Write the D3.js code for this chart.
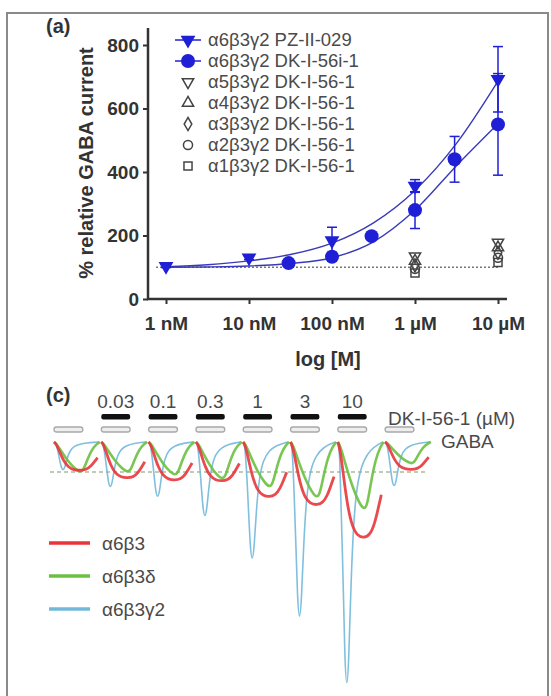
<!DOCTYPE html>
<html>
<head>
<meta charset="utf-8">
<script src="https://cdn.jsdelivr.net/npm/d3@7"></script>
<style>
  body { margin: 0; background: #fff; }
  svg { font-family: "Liberation Sans", Arial, sans-serif; }
  .tickLab { font-weight: bold; font-size: 19px; fill: #333; }
  .axisLabel { font-weight: bold; font-size: 20px; fill: #333; }
  .legendText { font-size: 18.5px; fill: #4a4a4a; }
  .traceText { font-size: 19px; fill: #4a4a4a; }
</style>
</head>
<body>
<div id="chart"></div>
<script>
// ---------- panel (a) data ----------
const xTickValues = [1e-9, 1e-8, 1e-7, 1e-6, 1e-5];
const xTickLabels = ["1 nM", "10 nM", "100 nM", "1 \u00b5M", "10 \u00b5M"];
const yTickValues = [0, 200, 400, 600, 800];

// a6b3g2 PZ-II-029 (filled down triangles)
const pzConc = [1e-9, 1e-8, 1e-7, 1e-6, 1e-5];
const pzMean = [103, 130, 184, 356, 692];
const pzErr  = [4, 6, 42, 20, 103];
// a6b3g2 DK-I-56-1 (filled circles)
const dkConc = [3e-8, 1e-7, 3e-7, 1e-6, 3e-6, 1e-5];
const dkMean = [113, 133, 198, 280, 440, 550];
const dkErr  = [4, 14, 6, 58, 72, 160];

// fitted curves (log10 conc, %)
const fitLogConc = [-9, -8.5, -8, -7.5, -7, -6.5, -6, -5.5, -5];
const pzFit = [102, 108, 120, 140, 176, 240, 342, 490, 686];
const dkFit = [100, 101, 104, 112, 130, 180, 280, 420, 552];

// other subtypes with DK-I-56-1 (open markers) at 1 uM and 10 uM
const otherConc = [1e-6, 1e-5];
const a5Vals = [135, 178];
const a4Vals = [120, 162];
const a3Vals = [106, 146];
const a2Vals = [95, 130];
const a1Vals = [82, 115];

const legendLabels = [
  "\u03b16\u03b23\u03b32 PZ-II-029",
  "\u03b16\u03b23\u03b32 DK-I-56i-1",
  "\u03b15\u03b23\u03b32 DK-I-56-1",
  "\u03b14\u03b23\u03b32 DK-I-56-1",
  "\u03b13\u03b23\u03b32 DK-I-56-1",
  "\u03b12\u03b23\u03b32 DK-I-56-1",
  "\u03b11\u03b23\u03b32 DK-I-56-1"
];

// ---------- panel (c) data ----------
const sweepNames = ["GABA", "0.03", "0.1", "0.3", "1", "3", "10", "GABA"];
const drugLabels = ["0.03", "0.1", "0.3", "1", "3", "10"];
// peak amplitude of each sweep, % of GABA alone
const ampA6B3   = [95, 120, 127, 130, 183, 210, 320, 92];
const ampA6B3D  = [100, 100, 110, 123, 150, 185, 225, 72];
const ampA6B3G2 = [95, 153, 187, 253, 400, 600, 830, 150];
// current time course inside one sweep (fraction of sweep, fraction of peak)
const shapeA6B3   = [[0,0],[0.05,0.08],[0.12,0.35],[0.2,0.65],[0.3,0.88],[0.42,0.98],[0.55,1],[0.68,0.97],[0.78,0.85],[0.86,0.68],[0.92,0.55]];
const shapeA6B3D  = [[0,0],[0.05,0.05],[0.15,0.3],[0.3,0.65],[0.45,0.9],[0.55,1],[0.62,0.95],[0.7,0.6],[0.8,0.25],[0.9,0.07],[0.97,0]];
const shapeA6B3G2 = [[0,0],[0.04,0.02],[0.1,0.45],[0.15,0.9],[0.19,1],[0.23,0.9],[0.28,0.55],[0.34,0.3],[0.42,0.15],[0.55,0.07],[0.7,0.03],[0.85,0.01],[0.95,0]];
const traceNames = ["\u03b16\u03b23", "\u03b16\u03b23\u03b4", "\u03b16\u03b23\u03b32"];

const W = 551, H = 696;
const svg = d3.select("#chart").append("svg").attr("width", W).attr("height", H);

// figure frame
svg.append("rect").attr("x", 7).attr("y", 13).attr("width", 541).attr("height", 700)
   .attr("fill", "none").attr("stroke", "#8a8a8a").attr("stroke-width", 2);

////////////////////////////////////////////////////////////
// panel (a)
////////////////////////////////////////////////////////////
const xScale = d3.scaleLog().domain([1e-9, 1e-5]).range([166, 498]);
const yScale = d3.scaleLinear().domain([0, 800]).range([299, 45]);
const axisColor = "#333";

let xAxis = svg.append("g").attr("transform", "translate(0,299)")
  .call(d3.axisBottom(xScale).tickValues(xTickValues).tickSize(5).tickFormat((d, i) => xTickLabels[i]));
let yAxis = svg.append("g").attr("transform", "translate(148,0)")
  .call(d3.axisLeft(yScale).tickValues(yTickValues).tickSize(5).tickFormat(d3.format("d")));
[xAxis, yAxis].forEach(g => {
  g.select(".domain").remove();
  g.selectAll("line").attr("stroke", axisColor).attr("stroke-width", 2);
  g.selectAll("text").attr("class", "tickLab").attr("font-family", null).attr("font-size", null);
});
xAxis.selectAll("text").attr("y", 31).attr("dy", 0);
yAxis.selectAll("text").attr("x", -9);
svg.append("line").attr("x1", 148).attr("x2", 148).attr("y1", 28).attr("y2", 300)
   .attr("stroke", axisColor).attr("stroke-width", 2.5);
svg.append("line").attr("x1", 147).attr("x2", 507).attr("y1", 299).attr("y2", 299)
   .attr("stroke", axisColor).attr("stroke-width", 2.5);

svg.append("text").attr("class", "axisLabel").attr("text-anchor", "middle")
   .attr("x", 328).attr("y", 366).text("log [M]");
svg.append("text").attr("class", "axisLabel").attr("text-anchor", "middle")
   .attr("transform", "translate(93,163) rotate(-90)").text("% relative GABA current");
svg.append("text").attr("class", "axisLabel").attr("x", 46).attr("y", 33).text("(a)");

// reference line at 100 %
svg.append("line").attr("x1", 156).attr("x2", 498)
   .attr("y1", yScale(100)).attr("y2", yScale(100))
   .attr("stroke", "#777").attr("stroke-width", 1.3).attr("stroke-dasharray", "2,2");

const blue = "#1f1fd6";
const fitLine = d3.line()
  .x(d => xScale(Math.pow(10, d[0])))
  .y(d => yScale(d[1]))
  .curve(d3.curveMonotoneX);
[pzFit, dkFit].forEach(fit => {
  svg.append("path").datum(fitLogConc.map((c, i) => [c, fit[i]]))
     .attr("d", fitLine).attr("fill", "none").attr("stroke", "#3a3ab8").attr("stroke-width", 1.4);
});

function errorBars(conc, mean, err) {
  const g = svg.append("g").attr("stroke", blue).attr("stroke-width", 1.5);
  conc.forEach((c, i) => {
    const x = xScale(c);
    g.append("line").attr("x1", x).attr("x2", x).attr("y1", yScale(mean[i] - err[i])).attr("y2", yScale(mean[i] + err[i]));
    [mean[i] - err[i], mean[i] + err[i]].forEach(v => {
      g.append("line").attr("x1", x - 5).attr("x2", x + 5).attr("y1", yScale(v)).attr("y2", yScale(v));
    });
  });
}
errorBars(dkConc, dkMean, dkErr);
errorBars(pzConc, pzMean, pzErr);

const downTri = d3.symbol().type(d3.symbolTriangle).size(95);
svg.selectAll(".pz").data(pzConc).enter().append("path")
   .attr("d", downTri)
   .attr("transform", (d, i) => `translate(${xScale(d)},${yScale(pzMean[i])}) rotate(180)`)
   .attr("fill", blue);
svg.selectAll(".dk").data(dkConc).enter().append("circle")
   .attr("cx", d => xScale(d)).attr("cy", (d, i) => yScale(dkMean[i]))
   .attr("r", 7).attr("fill", blue);

// open markers
const openSeries = [
  { vals: a5Vals, type: d3.symbolTriangle, size: 55, rot: 180 },
  { vals: a4Vals, type: d3.symbolTriangle, size: 55, rot: 0 },
  { vals: a3Vals, type: d3.symbolDiamond, size: 50, rot: 0 },
  { vals: a2Vals, type: d3.symbolCircle, size: 65, rot: 0 },
  { vals: a1Vals, type: d3.symbolSquare, size: 65, rot: 0 }
];
openSeries.forEach(s => {
  svg.append("g").selectAll("path").data(otherConc).enter().append("path")
     .attr("d", d3.symbol().type(s.type).size(s.size))
     .attr("transform", (d, i) => `translate(${xScale(d)},${yScale(s.vals[i])}) rotate(${s.rot})`)
     .attr("fill", "none").attr("stroke", "#444").attr("stroke-width", 1.5);
});

// legend (a)
const legY = d3.range(legendLabels.length).map(i => 40 + i * 21);
const legX = 188;
legendLabels.forEach((lab, i) => {
  svg.append("text").attr("class", "legendText").attr("x", 208).attr("y", legY[i])
     .attr("dy", "0.35em").text(lab);
});
[0, 1].forEach(i => {
  svg.append("line").attr("x1", legX - 13).attr("x2", legX + 13).attr("y1", legY[i]).attr("y2", legY[i])
     .attr("stroke", blue).attr("stroke-width", 1.5);
});
svg.append("path").attr("d", downTri).attr("transform", `translate(${legX},${legY[0]}) rotate(180)`).attr("fill", blue);
svg.append("circle").attr("cx", legX).attr("cy", legY[1]).attr("r", 7).attr("fill", blue);
openSeries.forEach((s, i) => {
  svg.append("path").attr("d", d3.symbol().type(s.type).size(s.size))
     .attr("transform", `translate(${legX},${legY[i + 2]}) rotate(${s.rot})`)
     .attr("fill", "none").attr("stroke", "#444").attr("stroke-width", 1.5);
});

////////////////////////////////////////////////////////////
// panel (c)
////////////////////////////////////////////////////////////
svg.append("text").attr("class", "axisLabel").attr("x", 46).attr("y", 402).text("(c)");

const tx = d3.scaleLinear().domain([0, 8]).range([54, 54 + 8 * 47.3]);
const ty = d3.scaleLinear().domain([0, 100]).range([442, 472]);
const barLen = 0.61;

// GABA application bars
svg.selectAll(".gabaBar").data(sweepNames).enter().append("rect")
   .attr("x", (d, i) => tx(i)).attr("y", 427)
   .attr("width", tx(barLen) - tx(0)).attr("height", 5).attr("rx", 2.5)
   .attr("fill", "#eeeeee").attr("stroke", "#a8a8a8").attr("stroke-width", 1.3);
// drug application bars + concentrations
svg.selectAll(".drugBar").data(drugLabels).enter().append("rect")
   .attr("x", (d, i) => tx(i + 1)).attr("y", 414)
   .attr("width", tx(barLen) - tx(0)).attr("height", 5.5).attr("rx", 2)
   .attr("fill", "#111");
svg.selectAll(".drugLab").data(drugLabels).enter().append("text")
   .attr("class", "traceText").attr("text-anchor", "middle")
   .attr("x", (d, i) => tx(i + 1 + barLen / 2)).attr("y", 408).text(d => d);
svg.append("text").attr("class", "traceText").attr("font-size", "20px")
   .attr("x", 388).attr("y", 425).text("DK-I-56-1 (\u00b5M)");
svg.append("text").attr("class", "traceText").attr("font-size", "20px")
   .attr("x", 441).attr("y", 448).text("GABA");

// GABA-alone reference level
svg.append("line").attr("x1", 50).attr("x2", 428).attr("y1", ty(100)).attr("y2", ty(100))
   .attr("stroke", "#7f9a6a").attr("stroke-width", 1.2).attr("stroke-dasharray", "4,3");

const traceLine = d3.line().x(d => tx(d[0])).y(d => ty(d[1])).curve(d3.curveBasis);
const traces = [
  { amp: ampA6B3G2, shape: shapeA6B3G2, color: "#72b8da", width: 1.6 },
  { amp: ampA6B3D,  shape: shapeA6B3D,  color: "#6cc040", width: 2.6 },
  { amp: ampA6B3,   shape: shapeA6B3,   color: "#e8353a", width: 2.8 }
];
traces.forEach(tr => {
  tr.amp.forEach((a, i) => {
    const pts = tr.shape.map(p => [i + p[0], p[1] * a]);
    svg.append("path").datum(pts).attr("d", traceLine)
       .attr("fill", "none").attr("stroke", tr.color).attr("stroke-width", tr.width)
       .attr("stroke-linejoin", "round").attr("stroke-opacity", 0.9);
  });
});

// trace legend
const traceColors = ["#e8353a", "#6cc040", "#72b8da"];
const traceLegY = [543, 576, 609];
traceNames.forEach((n, i) => {
  svg.append("line").attr("x1", 49).attr("x2", 90).attr("y1", traceLegY[i]).attr("y2", traceLegY[i])
     .attr("stroke", traceColors[i]).attr("stroke-width", 3.5);
  svg.append("text").attr("class", "traceText").attr("font-size", "23px")
     .attr("x", 102).attr("y", traceLegY[i]).attr("dy", "0.35em").text(n);
});
</script>
</body>
</html>
